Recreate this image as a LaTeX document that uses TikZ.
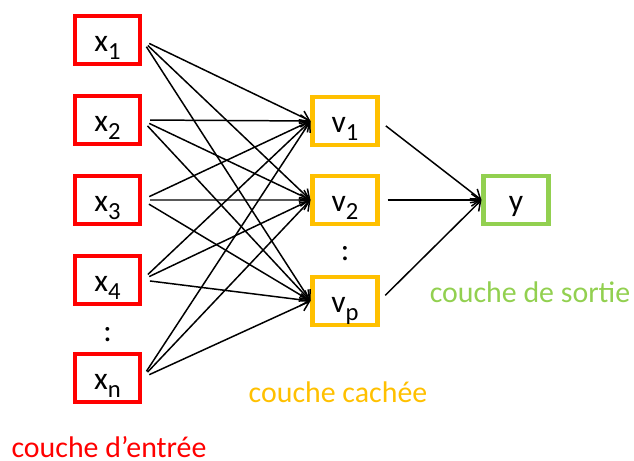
\documentclass[tikz,border=0pt]{standalone}
\usepackage{fontspec}
\setmainfont{Carlito}
\usetikzlibrary{arrows.meta,positioning}
\tikzstyle{layer}=[rectangle,line width=2.3pt,fill=white,minimum width=1.3cm,
minimum height=0.96cm,text height=13.6pt,text depth=0pt,font=\fontsize{18}{18}\selectfont]
\tikzstyle{input}=[layer,draw={rgb,255:red,255;green,0;blue,0}]
\tikzstyle{hidden}=[layer,draw={rgb,255:red,255;green,192;blue,0}]
\tikzstyle{output}=[layer,draw={rgb,255:red,146;green,208;blue,80}]
\tikzstyle{link}=[line width=0.85pt,shorten <=0.16cm]
\tikzstyle{dots}=[font=\fontsize{18}{18}\selectfont]
\tikzstyle{caption}=[inner sep=0pt,font=\fontsize{17}{17}\selectfont]
\newcommand{\lowidx}[1]{\raisebox{-4.3pt}[0pt][0pt]{\fontsize{14}{14}\selectfont #1}}

\begin{document}
\begin{tikzpicture}[node distance=1.6cm, >={Straight Barb[length=5pt,width=7pt]}]
            \useasboundingbox (0,0) rectangle (12.68,-9.22);

            % INPUT LAYER

            \node[input] at (2.15,-0.8) (x1) {x\lowidx{1}};
            \node[input, below of=x1] (x2) {x\lowidx{2}};
            \node[input, below of=x2] (x3) {x\lowidx{3}};
            \node[input, below of=x3] (x4) {x\lowidx{4}};
            \node[dots, below of=x4, node distance=1.1cm] (xdots) {:};
            \node[input, below of=x4, node distance=1.96cm] (xn) {x\lowidx{n}};

            % HIDDEN LAYER

            \node[hidden] at (6.9,-2.42) (v1) {v\lowidx{1}};
            \node[hidden, below of=v1, node distance=1.58cm] (v2) {v\lowidx{2}};
            \node[dots, below of=v2, node distance=1.08cm] (vdots) {:};
            \node[hidden, below of=v2, node distance=2.02cm] (vp) {v\lowidx{p}};

            % OUTPUT LAYER

            \node[output, right of=v2, node distance=3.42cm] (y) {y};

            % layer names
            \node[caption, text={rgb,255:red,146;green,208;blue,80}] at (10.6,-5.84) (lsortie) {couche de sortie};
            \node[caption, text={rgb,255:red,255;green,192;blue,0}] at (6.76,-7.84) (lcachee) {couche cachée};
            \node[caption, text={rgb,255:red,255;green,0;blue,0}] at (2.18,-8.94) (lentree) {couche d’entrée};

            % input -> hidden

            \path[->,link] (x1.east) edge node {} (v1.west);
            \path[->,link] (x1.east) edge node {} (v2.west);
            \path[->,link] (x1.east) edge node {} (vp.west);
            \path[->,link] (x2.east) edge node {} (v1.west);
            \path[->,link] (x2.east) edge node {} (v2.west);
            \path[->,link] (x2.east) edge node {} (vp.west);
            \path[->,link] (x3.east) edge node {} (v1.west);
            \path[->,link] (x3.east) edge node {} (v2.west);
            \path[->,link] (x3.east) edge node {} (vp.west);
            \path[->,link] (x4.east) edge node {} (v1.west);
            \path[->,link] (x4.east) edge node {} (v2.west);
            \path[->,link] (x4.east) edge node {} (vp.west);
            \path[->,link] (xn.east) edge node {} (v1.west);
            \path[->,link] (xn.east) edge node {} (v2.west);
            \path[->,link] (xn.east) edge node {} (vp.west);

            % hidden -> output

            \path[->,link] (v1.east) edge node {} (y.west);
            \path[->,link] (v2.east) edge node {} (y.west);
            \path[->,link] (vp.east) edge node {} (y.west);

\end{tikzpicture}
\end{document}
